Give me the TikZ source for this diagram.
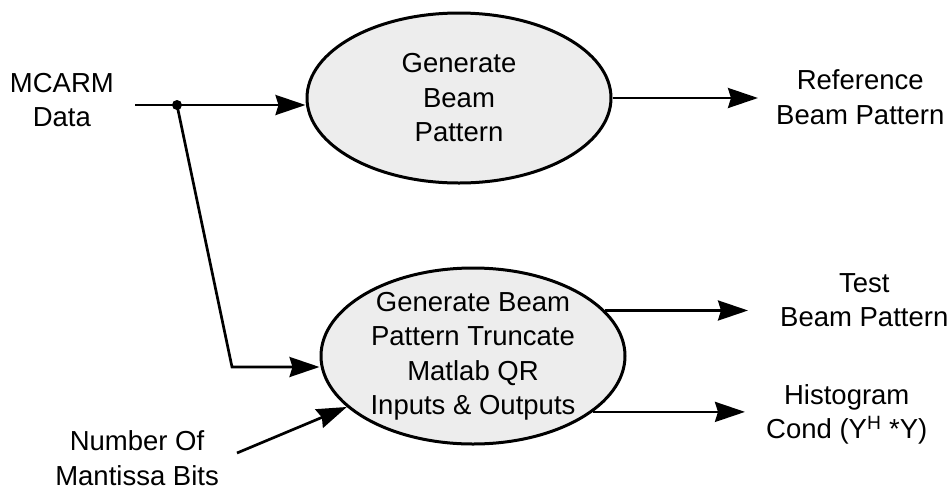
\documentclass[tikz,border=0pt]{standalone}
\usepackage{fontspec}
\setmainfont{Liberation Sans}
\usetikzlibrary{shapes.geometric,arrows.meta}
\begin{document}
\begin{tikzpicture}[x=1pt,y=-1pt,
  proc/.style={ellipse,draw,line width=3pt,fill=black!7,inner sep=0pt},
  lbl/.style={align=center,font=\fontsize{27.5}{34.5}\selectfont,inner ysep=0pt},
  flow/.style={line width=2.7pt,-{Stealth[length=30pt,width=20pt,inset=3pt]}},
  wire/.style={line width=2.7pt}]
\useasboundingbox (0,0) rectangle (951,491);

% processes
\node[proc,minimum width=304pt,minimum height=170pt] (gen) at (459,98) {};
\node[lbl] (gent) at (gen.center) {Generate\\Beam\\Pattern};
\node[proc,minimum width=304pt,minimum height=176pt] (chk) at (473,356) {};
\node[lbl] (chkt) at (chk.center) {Generate Beam\\Pattern Truncate\\Matlab QR\\Inputs \& Outputs};

% inputs and outputs
\node[lbl,anchor=east,inner xsep=21pt] (mcarm) at (135,100) {MCARM\\Data};
\node[lbl,anchor=east,inner xsep=18pt] (mant) at (237,458) {Number Of\\Mantissa Bits};
\node[lbl,anchor=west,inner xsep=18pt] (ref) at (758,97) {Reference\\Beam Pattern};
\node[lbl,anchor=west,inner xsep=32pt] (test) at (748,300) {Test\\Beam Pattern};
\node[lbl,anchor=west,inner xsep=21pt] (hist) at (745,414.5) {Histogram\\Cond (Y\textsuperscript{H} *Y)};

% branch point
\node[circle,fill,inner sep=0pt,minimum size=10pt] (j) at (177,105) {};
\coordinate (turn) at (232,367);

% connectors
\draw[wire] ([yshift=-5pt]mcarm.east) -- (j.center);
\draw[flow] (j.center) -- (j.center -| gen.west);
\draw[flow] (j.center) -- (turn) -- (turn -| chk.west);
\draw[flow] (gen.east) -- (gen.east -| ref.west);
\draw[flow] (chk.19) -- (chk.19 -| test.west);
\draw[flow] (chk.-25) -- (chk.-25 -| hist.west);
\draw[flow] ([yshift=5pt]mant.east) -- (chk.202);
\end{tikzpicture}
\end{document}
